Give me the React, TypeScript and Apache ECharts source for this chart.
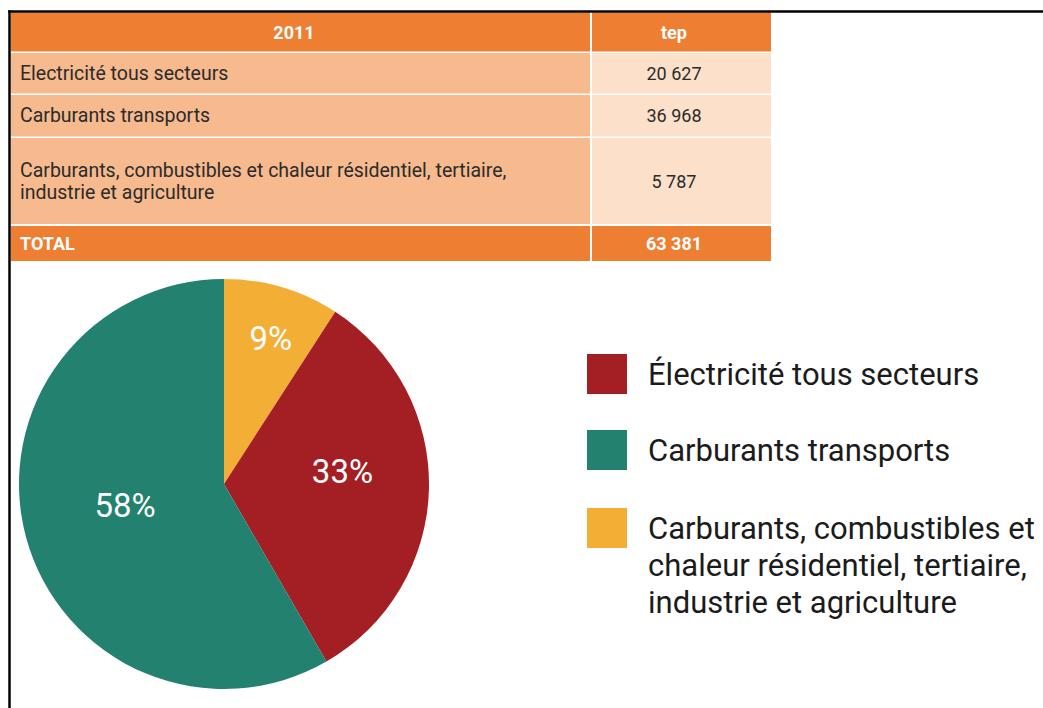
import { useEffect, useRef } from "react";
import * as echarts from "echarts";

// ---- data ----
const sectors = [
  "Électricité tous secteurs",
  "Carburants transports",
  "Carburants, combustibles et chaleur résidentiel, tertiaire, industrie et agriculture",
];
const sectorValues = [20627, 36968, 5787];
const sectorColors = ["#A31F24", "#238170", "#F3AE35"];
const pieOrder = [2, 0, 1];
const legendLines = [
  "Électricité tous secteurs",
  "Carburants transports",
  "Carburants, combustibles et\nchaleur résidentiel, tertiaire,\nindustrie et agriculture",
];

const tableHeaders = ["2011", "tep"];
const tableLabels = [
  "Electricité tous secteurs",
  "Carburants transports",
  "Carburants, combustibles et chaleur résidentiel, tertiaire,\nindustrie et agriculture",
];
const tableValues = [20627, 36968, 5787];
const totalLabel = "TOTAL";
const totalValue = 63381;

// ---- layout / style ----
const FONT = "Roboto, 'Liberation Sans', sans-serif";
const ORANGE = "#EE7E32";
const LIGHT_L = "#F6BA8E";
const LIGHT_R = "#FCE0CA";
const colL: [number, number] = [11, 590];
const colR: [number, number] = [592, 771];
const rowBands: [number, number][] = [
  [12.5, 51.5],
  [53, 93.5],
  [95, 136.5],
  [138, 224],
  [226, 261],
];
const labelX = 20;
const valueCX = 674;
const headerCX = 294;
const labelShift: [number, number][] = [
  [17, -44],
  [13, -15],
  [3, -6],
];
const LEGEND_LINE_H = 37;
const LEGEND_TEXT_PAD = 16;

const fmt = (n: number) => String(n).replace(/\B(?=(\d{3})+(?!\d))/g, " ");

function buildTable(): any[] {
  const els: any[] = [];
  const rows = [
    { kind: "head", l: tableHeaders[0], r: tableHeaders[1] },
    ...tableLabels.map((l, i) => ({ kind: "body", l, r: fmt(tableValues[i]) })),
    { kind: "total", l: totalLabel, r: fmt(totalValue) },
  ];
  rows.forEach((row, i) => {
    const [y0, y1] = rowBands[i];
    const cy = (y0 + y1) / 2;
    const strong = row.kind !== "body";
    els.push({
      type: "rect",
      shape: { x: colL[0], y: y0, width: colL[1] - colL[0], height: y1 - y0 },
      style: { fill: strong ? ORANGE : LIGHT_L },
      silent: true,
    });
    els.push({
      type: "rect",
      shape: { x: colR[0], y: y0, width: colR[1] - colR[0], height: y1 - y0 },
      style: { fill: strong ? ORANGE : LIGHT_R },
      silent: true,
    });
    els.push({
      type: "text",
      x: row.kind === "head" ? headerCX : labelX,
      y: cy,
      style: {
        text: row.l,
        fill: strong ? "#ffffff" : "#2b2b2b",
        fontSize: strong ? 18 : 19.5,
        fontWeight: strong ? "bold" : "normal",
        fontFamily: FONT,
        lineHeight: 22,
        align: row.kind === "head" ? "center" : "left",
        verticalAlign: "middle",
      },
      silent: true,
    });
    els.push({
      type: "text",
      x: valueCX,
      y: cy,
      style: {
        text: row.r,
        fill: strong ? "#ffffff" : "#2b2b2b",
        fontSize: 18,
        fontWeight: strong ? "bold" : "normal",
        fontFamily: FONT,
        align: "center",
        verticalAlign: "middle",
      },
      silent: true,
    });
  });
  // black frame lines
  els.push({
    type: "line",
    shape: { x1: 8, y1: 11.5, x2: 1043, y2: 11.5 },
    style: { stroke: "#000", lineWidth: 2.5 },
    silent: true,
  });
  els.push({
    type: "line",
    shape: { x1: 9.5, y1: 10.5, x2: 9.5, y2: 708 },
    style: { stroke: "#000", lineWidth: 2.5 },
    silent: true,
  });
  return els;
}

// Multi-line legend entries are vertically centred on the swatch; prepend blank
// lines so that the first real line sits beside the swatch.
function legendText(name: string): string {
  const txt = legendLines[sectors.indexOf(name)];
  const n = txt.split("\n").length;
  return "\n".repeat(n - 1) + txt;
}

function legendBlock(names: string[], swatchTop: number) {
  const maxLines = Math.max(...names.map((n) => legendText(n).split("\n").length));
  const textH = maxLines * LEGEND_LINE_H;
  const above = Math.max(0, (textH - 40) / 2);
  return {
    orient: "vertical",
    left: 587,
    top: swatchTop - above,
    width: 456,
    height: 400,
    padding: 0,
    itemWidth: 40,
    itemHeight: 40,
    itemGap: 36,
    icon: "rect",
    selectedMode: false,
    data: names,
    formatter: legendText,
    textStyle: {
      fontSize: 31,
      lineHeight: LEGEND_LINE_H,
      color: "#1b1b1b",
      fontFamily: FONT,
      padding: [0, 0, 0, LEGEND_TEXT_PAD],
    },
  };
}

export default function App() {
  const ref = useRef<HTMLDivElement>(null);
  useEffect(() => {
    if (!ref.current) return;
    const chart = echarts.init(ref.current, null, { renderer: "svg" });
    chart.setOption({
      animation: false,
      backgroundColor: "#ffffff",
      legend: [legendBlock([sectors[0], sectors[1]], 354), legendBlock([sectors[2]], 508)],
      series: [
        {
          type: "pie",
          center: [224, 484],
          radius: 205,
          startAngle: 90,
          clockwise: true,
          percentPrecision: 0,
          silent: true,
          data: pieOrder.map((i) => ({
            name: sectors[i],
            value: sectorValues[i],
            itemStyle: { color: sectorColors[i] },
          })),
          label: {
            position: "inside",
            formatter: "{d}%",
            color: "#ffffff",
            fontSize: 33,
            fontFamily: FONT,
          },
          labelLine: { show: false },
          labelLayout: (p: any) => ({
            dx: labelShift[p.dataIndex][0],
            dy: labelShift[p.dataIndex][1],
          }),
          emphasis: { disabled: true },
        },
      ],
      graphic: buildTable(),
    });
    return () => chart.dispose();
  }, []);
  return (
    <div
      ref={ref}
      style={{ position: "absolute", left: 0, top: 0, width: 1043, height: 708 }}
    />
  );
}
